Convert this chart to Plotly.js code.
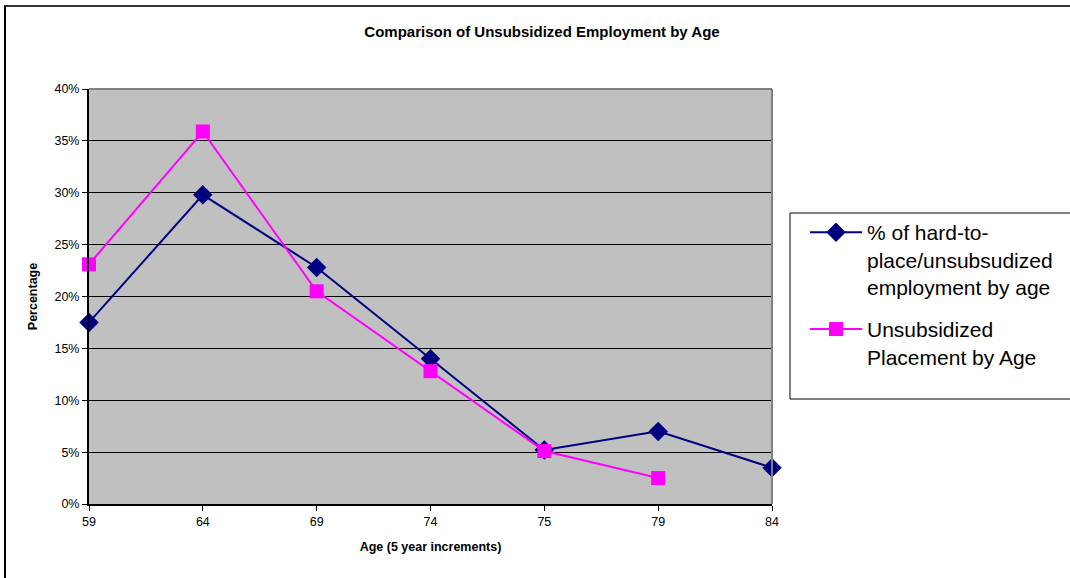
<!DOCTYPE html>
<html>
<head>
<meta charset="utf-8">
<script src="https://cdn.plot.ly/plotly-3.0.1.min.js"></script>
<style>
html,body{margin:0;padding:0;background:#fff;}
#chart{width:1070px;height:578px;}
</style>
</head>
<body>
<div id="chart"></div>
<script>
const ages = ["59", "64", "69", "74", "75", "79", "84"];
const hardToPlace = [0.175, 0.298, 0.228, 0.140, 0.052, 0.070, 0.035];
const unsubsidized = [0.231, 0.359, 0.205, 0.128, 0.051, 0.025, null];
const seriesNames = ["% of hard-to-<br>place/unsubsudized<br>employment by age", "Unsubsidized<br>Placement by Age"];
const yTicks = [0, 0.05, 0.10, 0.15, 0.20, 0.25, 0.30, 0.35, 0.40];

const L = 89, R = 772, T = 89, B = 504, W = 1070, H = 578;
const pw = R - L, ph = B - T;
const px = x => (x - L) / pw;
const py = y => (B - y) / ph;

const traces = [
  {
    x: ages, y: hardToPlace, name: seriesNames[0], type: 'scatter', mode: 'lines+markers',
    legendgroup: 'a',
    line: {color: '#000080', width: 2},
    marker: {symbol: 'diamond', size: 15, color: '#000080'},
    cliponaxis: false
  },
  {
    x: ages, y: unsubsidized, name: seriesNames[1], type: 'scatter', mode: 'lines+markers',
    legendgroup: 'b',
    line: {color: '#ff00ff', width: 2},
    marker: {symbol: 'square', size: 14, color: '#ff00ff'},
    cliponaxis: false
  }
];

const layout = {
  width: W, height: H,
  margin: {l: L, r: W - R, t: T, b: H - B, pad: 0},
  paper_bgcolor: '#ffffff',
  plot_bgcolor: '#c0c0c0',
  font: {family: 'Liberation Sans, Arial, sans-serif', color: '#000'},
  title: {
    text: '<b>Comparison of Unsubsidized Employment by Age</b>',
    font: {size: 15, color: '#000'},
    x: 542 / W, xref: 'container', xanchor: 'center',
    y: 1 - 32 / H, yref: 'container', yanchor: 'middle'
  },
  xaxis: {
    type: 'category',
    range: [0, ages.length - 1],
    showgrid: false,
    showline: true, linecolor: '#000', linewidth: 2,
    ticks: 'outside', ticklen: 5, tickcolor: '#000', tickwidth: 1,
    tickfont: {size: 12.5},
    title: {text: '<b>Age (5 year increments)</b>', font: {size: 12.5}, standoff: 14},
    zeroline: false, fixedrange: true
  },
  yaxis: {
    range: [0, 0.4],
    tickvals: yTicks,
    tickformat: '.0%',
    showgrid: true, gridcolor: '#000', gridwidth: 1,
    showline: true, linecolor: '#000', linewidth: 2,
    ticks: 'outside', ticklen: 5, tickcolor: '#000', tickwidth: 1,
    tickfont: {size: 12.5},
    title: {text: '<b>Percentage</b>', font: {size: 12.5}, standoff: 14},
    zeroline: false, fixedrange: true
  },
  showlegend: true,
  legend: {
    x: px(805), y: py(212), xanchor: 'left', yanchor: 'top',
    bgcolor: 'rgba(0,0,0,0)', borderwidth: 0,
    font: {size: 21, family: 'Liberation Sans, Arial, sans-serif'},
    traceorder: 'grouped',
    tracegroupgap: 12,
    valign: 'top',
    itemwidth: 52
  },
  shapes: [
    {type: 'line', xref: 'paper', yref: 'paper', x0: 0, x1: 1, y0: 1, y1: 1, line: {color: '#808080', width: 2}},
    {type: 'line', xref: 'paper', yref: 'paper', x0: 1, x1: 1, y0: 0, y1: 1, line: {color: '#808080', width: 2}},
    {type: 'rect', xref: 'paper', yref: 'paper', x0: px(790), x1: px(1075), y0: py(399), y1: py(213), line: {color: '#000', width: 1}, fillcolor: 'rgba(0,0,0,0)'},
    {type: 'line', xref: 'paper', yref: 'paper', x0: px(4), x1: px(1075), y0: py(6), y1: py(6), line: {color: '#333', width: 2}},
    {type: 'line', xref: 'paper', yref: 'paper', x0: px(5), x1: px(5), y0: py(6), y1: py(585), line: {color: '#000', width: 2}}
  ]
};

Plotly.newPlot('chart', traces, layout, {displayModeBar: false, staticPlot: true});
</script>
</body>
</html>
